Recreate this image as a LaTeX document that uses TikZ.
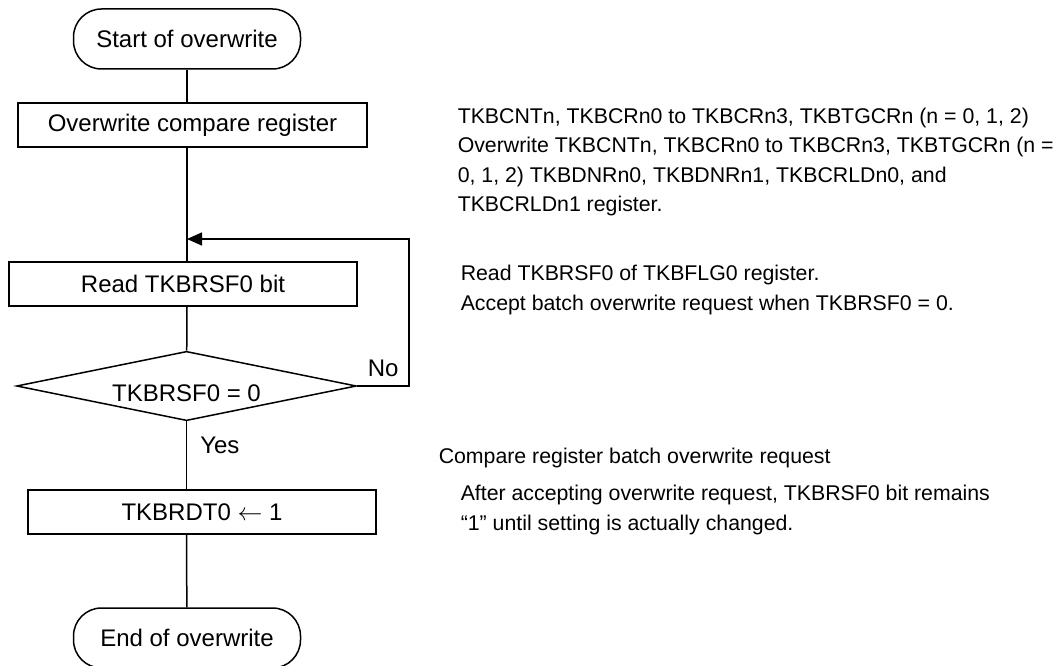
\documentclass[tikz,border=0pt]{standalone}
\usepackage{fontspec}
\setmainfont{Liberation Sans}
\usetikzlibrary{shapes.geometric,arrows.meta}

\begin{document}
\begin{tikzpicture}[x=1pt,y=-1pt,line width=1.5pt,
  term/.style={draw,rounded corners=28pt,minimum width=227pt,minimum height=60pt,inner sep=0pt,font=\fontsize{24}{28}\selectfont},
  proc/.style={draw,minimum width=348pt,minimum height=44pt,inner sep=0pt,font=\fontsize{24}{28}\selectfont},
  decision/.style={draw,diamond,aspect=4.9,minimum width=335pt,minimum height=68pt,inner sep=0pt,
    text height=35pt,text depth=4pt,font=\fontsize{24}{28}\selectfont},
  lbl/.style={inner sep=0pt,font=\fontsize{24}{28}\selectfont},
  note/.style={anchor=west,align=left,inner sep=0pt,font=\fontsize{21.3}{29.5}\selectfont}]
\clip (0,0) rectangle (1060,666);
\node[term] (start) at (187,39) {Start of overwrite};
\node[proc,minimum width=349pt] (ovw) at (192.5,125) {Overwrite compare register};
\node[proc] (read) at (183,284) {Read TKBRSF0 bit};
\node[decision] (chk) at (186.5,386) {TKBRSF0 = 0};
\node[proc] (done) at (202,512) {TKBRDT0 $\leftarrow$ 1};
\node[term] (stop) at (187,638) {End of overwrite};
\coordinate (loopin) at (187,239);
\draw (start) -- (start |- ovw.north);
\draw (start |- ovw.south) -- (start |- read.north);
\draw (start |- read.south) -- (chk);
\draw (chk) -- node[lbl,pos=0.35,anchor=west,xshift=13pt]{Yes} (chk |- done.north);
\draw (chk |- done.south) -- (stop);
\draw[-{Triangle[length=15pt,width=13pt]}] (chk.east) -- ++(52,0) node[lbl,midway,anchor=south,yshift=9pt]{No} |- (loopin);
\node[note] (n1) at (457,162) {TKBCNTn, TKBCRn0 to TKBCRn3, TKBTGCRn (n = 0, 1, 2)\\
  Overwrite TKBCNTn, TKBCRn0 to TKBCRn3, TKBTGCRn (n =\\
  0, 1, 2) TKBDNRn0, TKBDNRn1, TKBCRLDn0, and\\
  TKBCRLDn1 register.};
\node[note] (n2) at (460,290) {Read TKBRSF0 of TKBFLG0 register.\\
  Accept batch overwrite request when TKBRSF0 = 0.};
\node[note] (n3) at (438,458) {Compare register batch overwrite request};
\node[note] (n4) at (460,510) {After accepting overwrite request, TKBRSF0 bit remains\\
  “1” until setting is actually changed.};
\end{tikzpicture}
\end{document}
